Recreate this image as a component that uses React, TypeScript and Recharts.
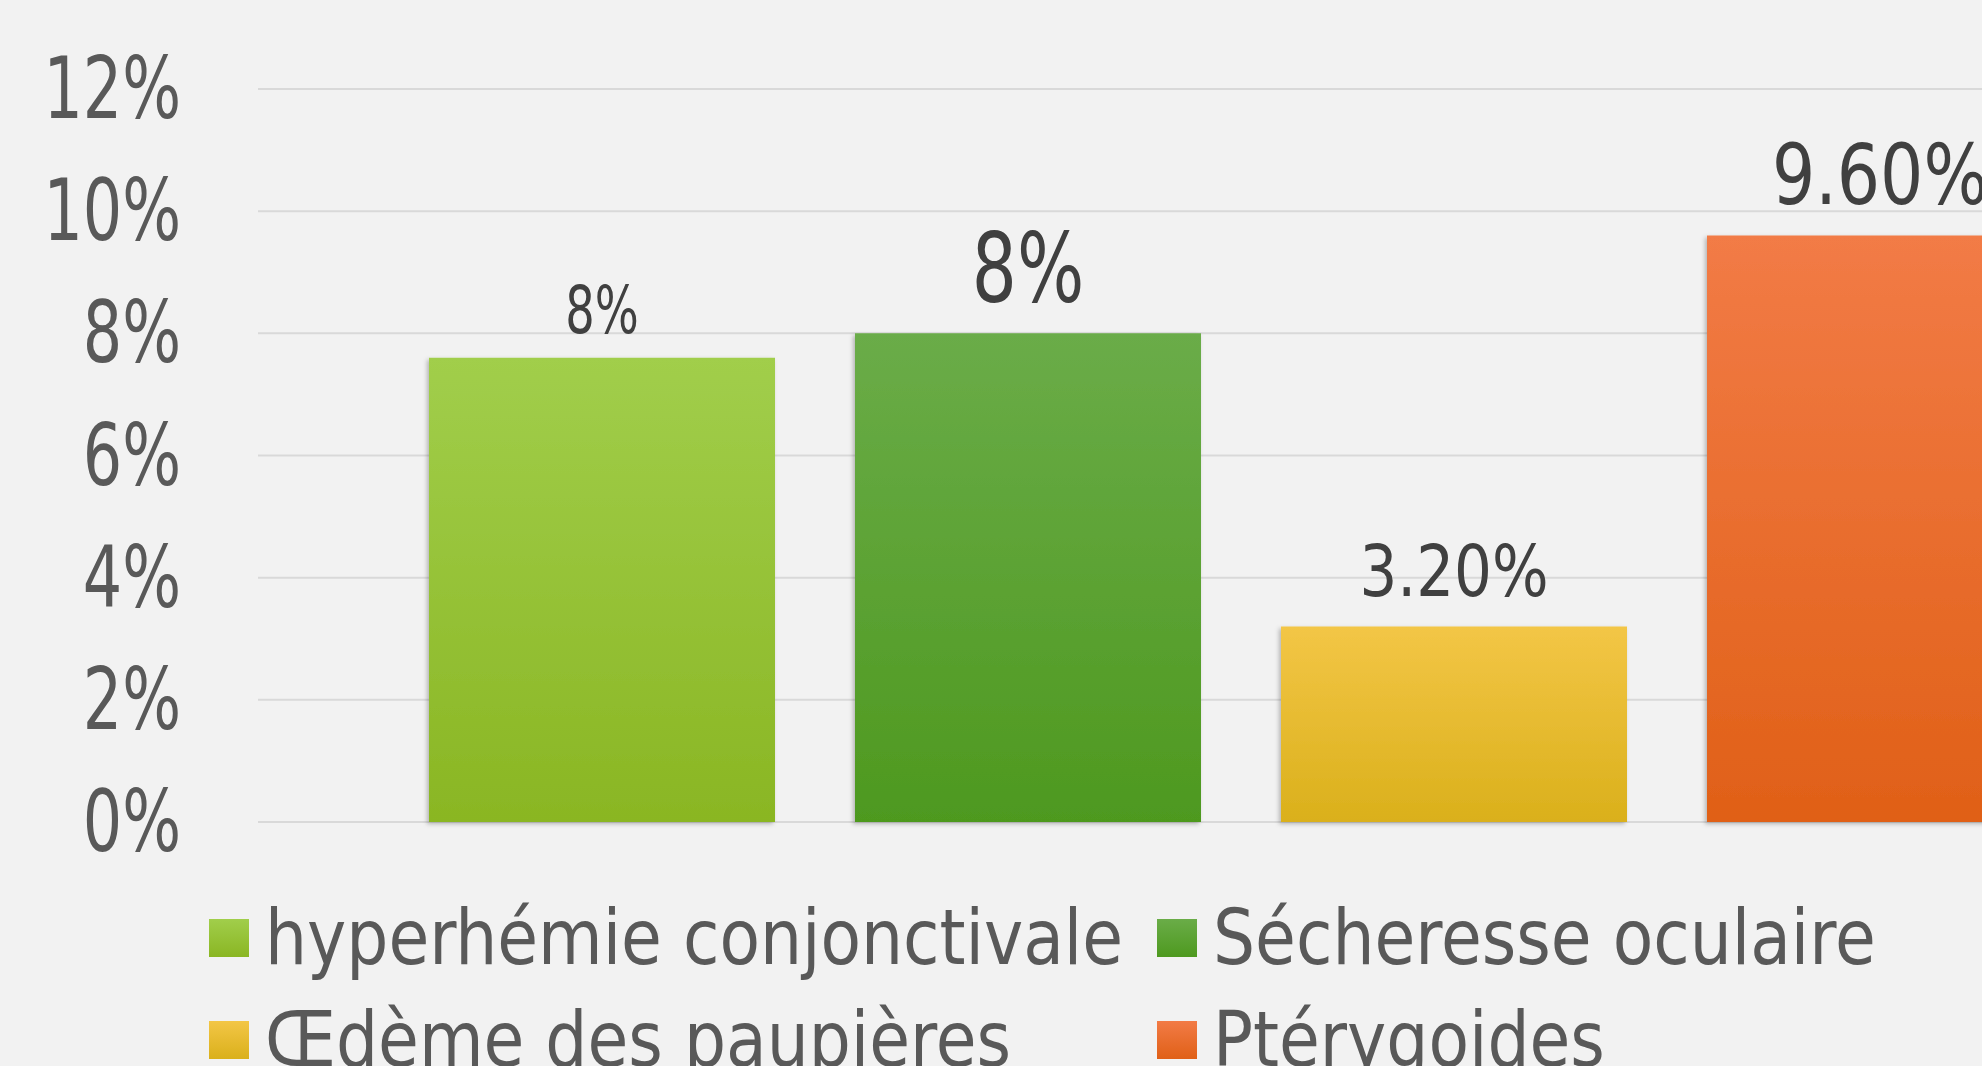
import { BarChart, Bar, XAxis, YAxis, CartesianGrid, Legend, LabelList } from "recharts";

const categories = ["Effets indésirables"];
const seriesNames = ["hyperhémie conjonctivale", "Sécheresse oculaire", "Œdème des paupières", "Ptérygoides"];
const seriesValues = [7.6, 8.0, 3.2, 9.6];
const seriesLabels = ["8%", "8%", "3.20%", "9.60%"];
const yTicks = [0, 2, 4, 6, 8, 10, 12];
const yTickLabels = ["0%", "2%", "4%", "6%", "8%", "10%", "12%"];

// styling, kept apart from the values
const gradTop = ["#a1ce4b", "#6aac48", "#f3c646", "#f27b46"];
const gradBottom = ["#8ab623", "#4e991f", "#dab01b", "#e06017"];
const labelFonts = [
  { size: 66, sx: 0.78, gap: 25 },
  { size: 96, sx: 0.82, gap: 31 },
  { size: 72, sx: 0.92, gap: 31 },
  { size: 84, sx: 0.9, gap: 32 },
];
const condensed = "'DejaVu Sans Condensed', 'DejaVu Sans', sans-serif";

const keys = seriesNames.map((_, i) => `s${i}`);
const data = categories.map((category) => {
  const row: Record<string, string | number> = { category };
  keys.forEach((k, i) => {
    row[k] = seriesValues[i];
  });
  return row;
});

const YTick = (props: any) => {
  const { x, y, payload } = props;
  const idx = yTicks.indexOf(payload.value);
  return (
    <g transform={`translate(${x},${y + 29}) scale(0.8,1)`}>
      <text x={0} y={0} textAnchor="end" fill="#595959" fontSize={86} fontFamily={condensed}>
        {yTickLabels[idx]}
      </text>
    </g>
  );
};

const makeLabel = (i: number) => (props: any) => {
  const { x, y, width } = props;
  const f = labelFonts[i];
  return (
    <g transform={`translate(${x + width / 2},${y - f.gap}) scale(${f.sx},1)`}>
      <text x={0} y={0} textAnchor="middle" fill="#404040" fontSize={f.size} fontFamily={condensed}>
        {seriesLabels[i]}
      </text>
    </g>
  );
};

const LegendBox = () => (
  <div
    style={{
      height: 270,
      boxSizing: "border-box",
      paddingTop: 65,
      paddingLeft: 209,
      display: "grid",
      gridTemplateColumns: "948px auto",
      gridAutoRows: "102px",
      fontFamily: condensed,
      fontSize: 76,
      color: "#595959",
    }}
  >
    {seriesNames.map((name, i) => (
      <div key={name} style={{ display: "flex", alignItems: "center", whiteSpace: "nowrap" }}>
        <span
          style={{
            display: "inline-block",
            width: 40,
            height: 38,
            marginRight: 16,
            background: `linear-gradient(${gradTop[i]}, ${gradBottom[i]})`,
          }}
        />
        <span style={{ lineHeight: 1, display: "inline-block", transform: "scaleX(0.97)", transformOrigin: "left center" }}>
          {name}
        </span>
      </div>
    ))}
  </div>
);

const App = () => {
  return (
    <div
      style={{
        position: "fixed",
        left: 0,
        top: 0,
        width: 1982,
        height: 1066,
        overflow: "hidden",
        background: "#f2f2f2",
      }}
    >
      <BarChart
        width={2224}
        height={1092}
        data={data}
        margin={{ top: 89, right: 0, bottom: 0, left: 0 }}
        barSize={346}
        barGap={80}
      >
        <defs>
          {keys.map((k, i) => (
            <linearGradient key={k} id={`grad-${k}`} x1="0" y1="0" x2="0" y2="1">
              <stop offset="0%" stopColor={gradTop[i]} />
              <stop offset="100%" stopColor={gradBottom[i]} />
            </linearGradient>
          ))}
          <filter id="barShadow" x="-10%" y="-10%" width="120%" height="120%">
            <feDropShadow dx={-2} dy={2} stdDeviation={2} floodColor="#000" floodOpacity={0.25} />
          </filter>
        </defs>
        <CartesianGrid vertical={false} stroke="#d9d9d9" strokeWidth={2} />
        <XAxis dataKey="category" hide />
        <YAxis
          width={258}
          domain={[0, 12]}
          ticks={yTicks}
          axisLine={false}
          tickLine={false}
          tickSize={0}
          tickMargin={77}
          tick={<YTick />}
          interval={0}
        />
        <Legend verticalAlign="bottom" wrapperStyle={{ left: 0, width: 2224 }} content={<LegendBox />} />
        {keys.map((k, i) => (
          <Bar
            key={k}
            dataKey={k}
            name={seriesNames[i]}
            fill={`url(#grad-${k})`}
            filter="url(#barShadow)"
            isAnimationActive={false}
          >
            <LabelList dataKey={k} content={makeLabel(i)} />
          </Bar>
        ))}
      </BarChart>
    </div>
  );
};

export default App;
